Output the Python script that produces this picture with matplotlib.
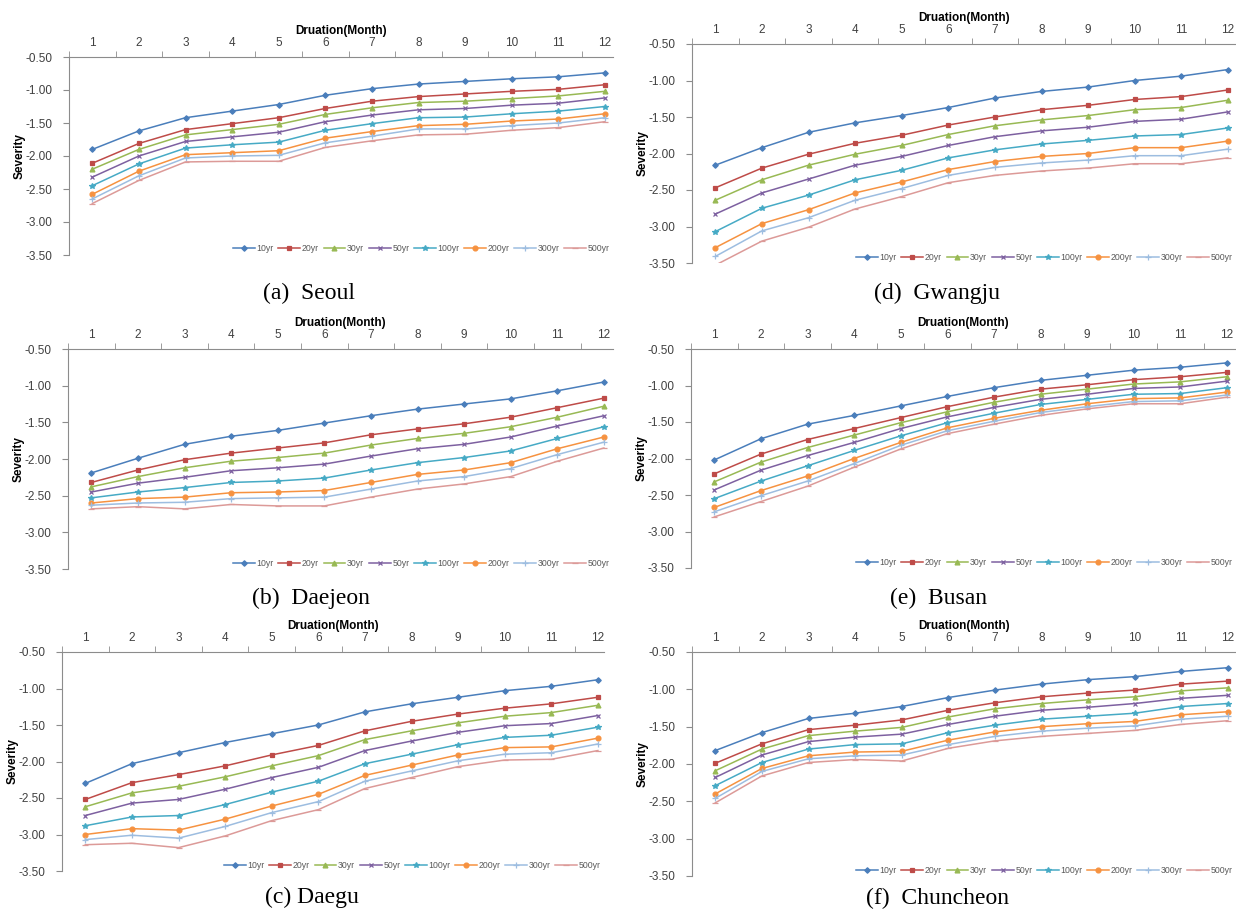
import numpy as np
import matplotlib
matplotlib.use('Agg')
from matplotlib import pyplot as plt

# severity-duration curves for six cities
months = list(range(1, 13))
periods = ['10yr', '20yr', '30yr', '50yr', '100yr', '200yr', '300yr', '500yr']

seoul = [
    [-1.90, -1.62, -1.42, -1.32, -1.22, -1.08, -0.98, -0.91, -0.87, -0.83, -0.80, -0.74],
    [-2.11, -1.81, -1.60, -1.51, -1.42, -1.28, -1.17, -1.10, -1.06, -1.02, -0.99, -0.92],
    [-2.20, -1.90, -1.68, -1.60, -1.52, -1.37, -1.27, -1.19, -1.17, -1.13, -1.09, -1.02],
    [-2.32, -2.00, -1.78, -1.71, -1.64, -1.48, -1.38, -1.30, -1.28, -1.23, -1.20, -1.12],
    [-2.45, -2.12, -1.88, -1.83, -1.79, -1.61, -1.51, -1.42, -1.41, -1.36, -1.32, -1.25],
    [-2.58, -2.23, -1.98, -1.95, -1.92, -1.73, -1.63, -1.54, -1.52, -1.47, -1.44, -1.36],
    [-2.65, -2.30, -2.03, -2.00, -1.99, -1.80, -1.70, -1.59, -1.59, -1.54, -1.50, -1.42],
    [-2.72, -2.37, -2.09, -2.08, -2.08, -1.87, -1.77, -1.68, -1.67, -1.61, -1.57, -1.48],
]
daejeon = [
    [-2.19, -1.99, -1.80, -1.69, -1.61, -1.51, -1.41, -1.32, -1.25, -1.18, -1.07, -0.95],
    [-2.32, -2.15, -2.01, -1.92, -1.85, -1.78, -1.67, -1.59, -1.52, -1.43, -1.30, -1.17],
    [-2.38, -2.24, -2.12, -2.03, -1.98, -1.92, -1.81, -1.72, -1.65, -1.56, -1.43, -1.28],
    [-2.45, -2.33, -2.25, -2.16, -2.12, -2.07, -1.96, -1.86, -1.80, -1.70, -1.55, -1.41],
    [-2.53, -2.45, -2.39, -2.32, -2.30, -2.26, -2.15, -2.05, -1.98, -1.89, -1.72, -1.56],
    [-2.60, -2.54, -2.52, -2.46, -2.45, -2.43, -2.32, -2.21, -2.15, -2.05, -1.86, -1.70],
    [-2.63, -2.60, -2.59, -2.54, -2.53, -2.52, -2.41, -2.30, -2.24, -2.13, -1.94, -1.77],
    [-2.68, -2.65, -2.68, -2.62, -2.64, -2.64, -2.52, -2.41, -2.34, -2.24, -2.03, -1.85],
]
daegu = [
    [-2.30, -2.03, -1.88, -1.74, -1.62, -1.50, -1.32, -1.21, -1.12, -1.03, -0.97, -0.88],
    [-2.52, -2.29, -2.18, -2.06, -1.91, -1.78, -1.58, -1.45, -1.35, -1.27, -1.21, -1.12],
    [-2.62, -2.43, -2.34, -2.21, -2.06, -1.92, -1.70, -1.58, -1.47, -1.38, -1.33, -1.23],
    [-2.74, -2.57, -2.52, -2.38, -2.22, -2.08, -1.85, -1.72, -1.60, -1.51, -1.48, -1.37],
    [-2.88, -2.76, -2.74, -2.59, -2.42, -2.27, -2.03, -1.90, -1.77, -1.67, -1.64, -1.53],
    [-3.00, -2.92, -2.94, -2.79, -2.61, -2.45, -2.19, -2.05, -1.91, -1.81, -1.80, -1.68],
    [-3.07, -3.01, -3.05, -2.89, -2.70, -2.55, -2.27, -2.13, -1.99, -1.90, -1.88, -1.76],
    [-3.14, -3.12, -3.18, -3.02, -2.81, -2.66, -2.37, -2.22, -2.07, -1.98, -1.97, -1.85],
]
gwangju = [
    [-2.16, -1.92, -1.71, -1.58, -1.48, -1.37, -1.24, -1.15, -1.09, -1.00, -0.94, -0.85],
    [-2.47, -2.20, -2.01, -1.86, -1.75, -1.61, -1.50, -1.40, -1.34, -1.26, -1.22, -1.13],
    [-2.64, -2.36, -2.16, -2.01, -1.89, -1.74, -1.62, -1.54, -1.48, -1.40, -1.37, -1.27],
    [-2.83, -2.54, -2.35, -2.16, -2.04, -1.89, -1.77, -1.69, -1.64, -1.56, -1.53, -1.43],
    [-3.07, -2.75, -2.57, -2.36, -2.23, -2.06, -1.95, -1.87, -1.82, -1.76, -1.74, -1.65],
    [-3.29, -2.96, -2.77, -2.54, -2.39, -2.22, -2.11, -2.04, -2.00, -1.92, -1.92, -1.83],
    [-3.41, -3.06, -2.88, -2.64, -2.48, -2.30, -2.19, -2.13, -2.09, -2.03, -2.03, -1.94],
    [-3.53, -3.20, -3.01, -2.76, -2.59, -2.40, -2.30, -2.24, -2.20, -2.14, -2.14, -2.06],
]
busan = [
    [-2.02, -1.73, -1.53, -1.41, -1.28, -1.15, -1.03, -0.93, -0.86, -0.79, -0.75, -0.69],
    [-2.21, -1.94, -1.74, -1.59, -1.44, -1.29, -1.16, -1.05, -0.99, -0.92, -0.88, -0.82],
    [-2.32, -2.05, -1.85, -1.68, -1.51, -1.36, -1.23, -1.12, -1.05, -0.98, -0.95, -0.88],
    [-2.43, -2.16, -1.96, -1.78, -1.59, -1.43, -1.30, -1.19, -1.12, -1.04, -1.02, -0.94],
    [-2.55, -2.31, -2.10, -1.89, -1.69, -1.51, -1.38, -1.26, -1.19, -1.12, -1.11, -1.03],
    [-2.67, -2.44, -2.24, -2.00, -1.78, -1.58, -1.45, -1.34, -1.25, -1.18, -1.17, -1.09],
    [-2.73, -2.51, -2.31, -2.07, -1.82, -1.62, -1.49, -1.37, -1.29, -1.22, -1.21, -1.13],
    [-2.80, -2.59, -2.38, -2.12, -1.87, -1.66, -1.53, -1.41, -1.32, -1.25, -1.25, -1.16],
]
chuncheon = [
    [-1.82, -1.58, -1.39, -1.32, -1.23, -1.11, -1.01, -0.93, -0.87, -0.83, -0.76, -0.71],
    [-1.99, -1.73, -1.54, -1.48, -1.41, -1.28, -1.18, -1.10, -1.05, -1.01, -0.93, -0.89],
    [-2.09, -1.80, -1.62, -1.56, -1.51, -1.37, -1.26, -1.19, -1.14, -1.10, -1.02, -0.98],
    [-2.18, -1.88, -1.70, -1.64, -1.60, -1.47, -1.36, -1.28, -1.24, -1.19, -1.12, -1.08],
    [-2.29, -1.98, -1.80, -1.74, -1.73, -1.58, -1.48, -1.40, -1.36, -1.32, -1.23, -1.19],
    [-2.40, -2.06, -1.89, -1.84, -1.83, -1.68, -1.57, -1.50, -1.46, -1.43, -1.34, -1.30],
    [-2.46, -2.10, -1.93, -1.89, -1.88, -1.74, -1.63, -1.56, -1.52, -1.49, -1.40, -1.36],
    [-2.52, -2.16, -1.98, -1.94, -1.96, -1.79, -1.69, -1.63, -1.59, -1.55, -1.47, -1.42],
]

colors = ['#4a7ebb', '#be4b48', '#98b954', '#7d60a0', '#46aac5', '#f69240', '#9dbde0', '#dc9a98']
markers = ['D', 's', '^', 'x', '*', 'o', '+', '_']
msizes = [2.8, 3.5, 3.5, 3.5, 4.0, 3.5, 4.0, 4.0]

W, H = 1236, 914
fig = plt.figure(figsize=(W / 100, H / 100), dpi=100)

# (data, caption, left, right, top, bottom, caption x, caption y) in pixels
panels = [
    (seoul, '(a)  Seoul', 69, 613, 57, 255, 309, 293),
    (daejeon, '(b)  Daejeon', 68, 613, 349, 569, 311, 598),
    (daegu, '(c) Daegu', 62, 604, 652, 871, 312, 897),
    (gwangju, '(d)  Gwangju', 692, 1236, 44, 263, 937, 293),
    (busan, '(e)  Busan', 691, 1236, 349, 568, 938, 598),
    (chuncheon, '(f)  Chuncheon', 692, 1236, 652, 876, 938, 898),
]

sans = 'Liberation Sans'
spine_col = '#8c8c8c'

for data, cap, l, r, t, b, capx, capy in panels:
    ax = fig.add_axes([l / W, 1 - b / H, (r - l) / W, (b - t) / H])
    for i, p in enumerate(periods):
        ax.plot(months, data[i], color=colors[i], marker=markers[i], ms=msizes[i],
                lw=1.1, mew=0.9, label=p)
    catw = 46.6
    ax.set_xlim(0.5, 0.5 + (r - l) / catw)
    ax.set_ylim(-3.5, -0.5)
    ax.set_yticks(np.arange(-3.5, -0.49, 0.5))
    ax.set_yticklabels(['%.2f' % v for v in np.arange(-3.5, -0.49, 0.5)],
                       fontsize=8.5, family=sans, color='#404040')
    ax.xaxis.tick_top()
    ax.set_xticks(months)
    ax.set_xticklabels([str(m) for m in months], fontsize=8.5, family=sans, color='#404040')
    ax.set_xticks(np.arange(0.5, 12.0, 1.0), minor=True)
    ax.tick_params(axis='x', which='major', length=0, pad=6)
    ax.tick_params(axis='x', which='minor', length=4, color=spine_col, direction='out', top=True)
    ax.tick_params(axis='y', length=4, color=spine_col, direction='out', pad=8)
    for s in ['right', 'bottom']:
        ax.spines[s].set_visible(False)
    for s in ['left', 'top']:
        ax.spines[s].set_color(spine_col)
        ax.spines[s].set_linewidth(0.8)
    ax.xaxis.set_label_position('top')
    ax.set_xlabel('Druation(Month)', fontsize=8.5, family=sans, fontweight='bold', labelpad=2)
    ax.set_ylabel('Severity', fontsize=8.5, family=sans, fontweight='bold')
    ax.yaxis.set_label_coords(-43 / (r - l), 0.5)
    leg = ax.legend(loc='lower right', ncol=8, frameon=False, fontsize=6.3,
                    handlelength=2.5, handletextpad=0.2, columnspacing=0.5,
                    borderaxespad=0.0, bbox_to_anchor=(1.0, -0.01))
    for txt in leg.get_texts():
        txt.set_color('#595959')
        txt.set_family(sans)
    fig.text(capx / W, 1 - capy / H, cap, ha='center', va='center',
             fontsize=17, family='Liberation Serif')

fig.savefig('out.png', dpi=100)
